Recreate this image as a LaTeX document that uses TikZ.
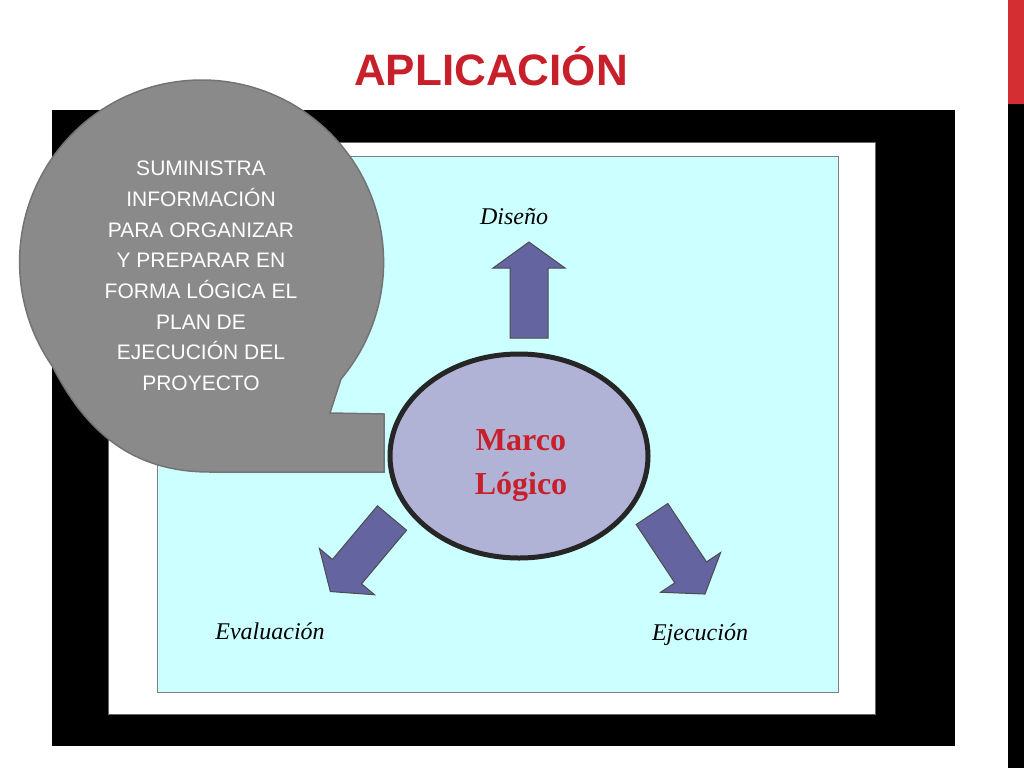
\documentclass[tikz,border=0pt]{standalone}
\usepackage{fontspec}
\usetikzlibrary{shapes.geometric}
\setmainfont{Liberation Serif}
\newfontfamily\sans{Liberation Sans}
\definecolor{titred}{HTML}{C8202A}
\definecolor{barred}{HTML}{D42E32}
\definecolor{cyanbg}{HTML}{CCFFFF}
\definecolor{lav}{HTML}{B0B2D6}
\definecolor{arr}{HTML}{6464A0}
\definecolor{bub}{HTML}{8A8A8A}
\begin{document}
\begin{tikzpicture}[x=1pt,y=-1pt,
  barrow/.style={fill=arr,draw=black!70,line width=1pt},
  lab/.style={font=\itshape\fontsize{24}{24}\selectfont}]
\useasboundingbox (0,0) rectangle (1024,768);
\fill[white] (0,0) rectangle (1024,768);
\fill[barred] (1008,0) rectangle (1024,104);
\fill[black] (1008,104) rectangle (1024,768);
\node[font=\sans\bfseries\fontsize{44}{44}\selectfont,text=titred] (title) at (491,66) {APLICACIÓN};
\fill[black] (52,110) rectangle (955,746);
\draw[fill=white,draw=black!60] (108,142) rectangle (875,714);
\draw[fill=cyanbg,draw=black!50] (157,156) rectangle (838,692);
% arrows
\foreach \px/\py/\ang in {529/338/90, 392/518/230, 652/514/-56.5}{
  \begin{scope}[shift={(\px,\py)},rotate=\ang]
    \draw[barrow] (0,-19) -- (70,-19) -- (70,-36) -- (96,0) -- (70,36) -- (70,19) -- (0,19) -- cycle;
  \end{scope}}
\node[ellipse,draw=black!85,line width=5pt,fill=lav,minimum width=258pt,minimum height=204pt,inner sep=0pt] (ml) at (519,456) {};
\node[font=\bfseries\fontsize{32}{44}\selectfont,text=titred,align=center] (mltxt) at (521,466) {Marco\\Lógico};
\node[lab] (dis) at (514,217) {Diseño};
\node[lab] (eva) at (270,631) {Evaluación};
\node[lab] (eje) at (700,635) {Ejecución};
% bubble
\draw[fill=bub,draw=black!55,line width=1.5pt]
  (341,379) arc[start angle=40,end angle=-215,radius=182]
  .. controls (90,440) and (140,472) .. (210,472) -- (384,472) -- (384,414) -- (330,413) -- cycle;
\node[font=\sans\fontsize{21}{30.7}\selectfont,text=white,align=center] (btxt) at (201,276)
  {SUMINISTRA\\INFORMACIÓN\\PARA ORGANIZAR\\Y PREPARAR EN\\FORMA LÓGICA EL\\PLAN DE\\EJECUCIÓN DEL\\PROYECTO};
\end{tikzpicture}
\end{document}
